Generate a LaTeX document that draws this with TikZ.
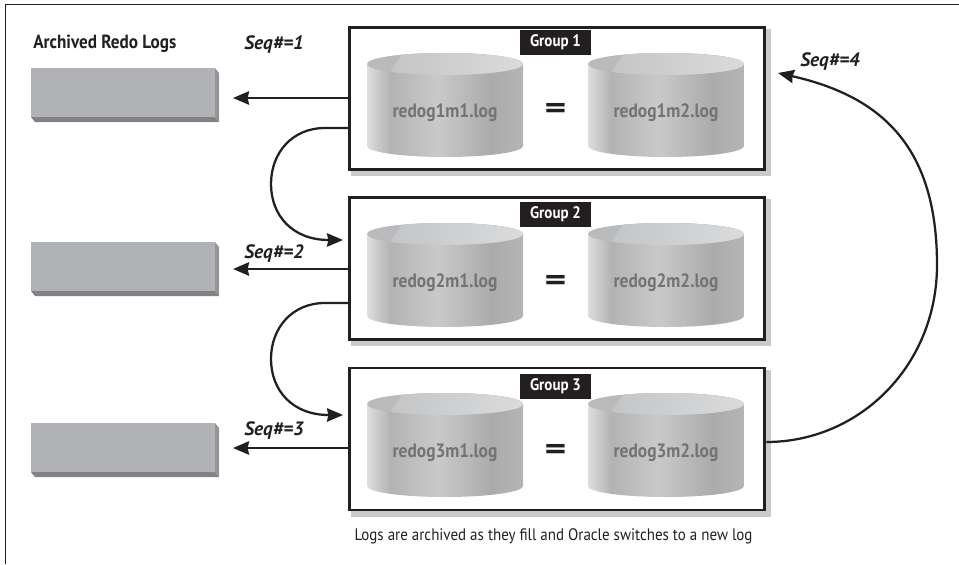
\documentclass[tikz,border=0pt]{standalone}
\usepackage{fontspec}
\setmainfont[FakeStretch=0.9]{PT Sans}
\newfontfamily\seqfont[FakeStretch=1.0]{PT Sans}
\usetikzlibrary{arrows.meta,calc}
\definecolor{cyltop}{HTML}{B9BABC}
\definecolor{cyltopl}{HTML}{DADBDC}
\definecolor{cyltopm}{HTML}{C4C5C7}
\definecolor{cyltext}{HTML}{727376}
\definecolor{archface}{HTML}{B1B2B5}
\definecolor{archside}{HTML}{939598}
\definecolor{archbot}{HTML}{808285}
\definecolor{shadowgray}{HTML}{C9CACC}
\definecolor{inkblack}{HTML}{231F20}
\pgfdeclarehorizontalshading{cylshade}{100bp}{
  color(0bp)=(white!87!black);color(25bp)=(white!87!black);
  color(32.5bp)=(white!70!black);color(47.5bp)=(white!79!black);
  color(65bp)=(white!67!black);color(70bp)=(white!69!black);
  color(75bp)=(white!71!black);color(100bp)=(white!71!black)}
\tikzset{
  x=0.75pt,y=-0.75pt,
  groupbox/.style={draw=inkblack,line width=2.2pt,fill=white,minimum width=311.5pt,minimum height=106.5pt,inner sep=0pt,anchor=north west},
  wire/.style={draw=inkblack,line width=1.7pt},
  arrow/.style={wire,-{Stealth[length=12pt,width=10pt,inset=1pt]}},
  seqlabel/.style={font=\seqfont\bfseries\itshape\fontsize{14.5}{17}\selectfont,text=inkblack,inner sep=0pt},
  grouptag/.style={fill=inkblack,text=white,font=\bfseries\fontsize{12.5}{14}\selectfont,minimum width=53pt,minimum height=18.75pt,inner sep=0pt},
  logname/.style={text=cyltext,font=\bfseries\fontsize{14.5}{16}\selectfont,inner sep=0pt},
  eqsign/.style={font=\bfseries\fontsize{23}{24}\selectfont,text=inkblack,inner sep=0pt,xscale=1.5},
  caption/.style={font=\fontsize{12.5}{14}\selectfont,text=inkblack,inner sep=0pt},
  archbox/.style={fill=archface,draw=none,minimum width=138pt,minimum height=36.75pt,inner sep=0pt,anchor=north west},
}
\newcommand{\cyl}[3]{% x, y-top, text
  \begin{scope}[shift={(#1,#2)}]
    \shade[shading=cylshade]
      (0,11) -- (0,93) arc[start angle=180,end angle=360,x radius=78,y radius=-11]
      -- (156,11) arc[start angle=0,end angle=180,x radius=78,y radius=-11] -- cycle;
    \fill[cyltop] (78,11) ellipse[x radius=78,y radius=11];
    \begin{scope}
      \clip (78,11) ellipse[x radius=78,y radius=11];
      \shade[left color=cyltopm,right color=cyltopl] (24,18) -- (36,0) -- (157,0) -- (157,24) -- (24,24) -- cycle;
    \end{scope}
    \node[logname] at (78,60) {#3};
  \end{scope}}
\newcommand{\arch}[3]{% name, x, y
  \fill[archside] (#2+184,#3) -- (#2+188,#3+5) -- (#2+188,#3+54) -- (#2+184,#3+49) -- cycle;
  \fill[archbot] (#2,#3+49) -- (#2+184,#3+49) -- (#2+188,#3+54) -- (#2+4,#3+54) -- cycle;
  \node[archbox] (#1) at (#2,#3) {};}
\newcommand{\grp}[2]{% name, y
  \fill[shadowgray] (351,#2+3) rectangle (771,#2+150);
  \node[groupbox] (#1) at (348,#2) {};}
\begin{document}
\begin{tikzpicture}
\useasboundingbox (0,0) rectangle (959,564);
\draw[inkblack,line width=0.75pt] (959,4.5) -- (5.5,4.5) -- (5.5,564);
% archive
\arch{a1}{31}{68}
\arch{a2}{31}{242}
\arch{a3}{31}{423}
\node[anchor=west,font=\bfseries\fontsize{14.3}{16}\selectfont,text=inkblack,inner sep=0pt] (title) at (33,44) {Archived Redo Logs};
% groups
\grp{g1}{26}
\grp{g2}{196}
\grp{g3}{366.5}
\node[grouptag] (t1) at (555.5,42.5) {Group 1};
\node[grouptag] (t2) at (555.5,214.5) {Group 2};
\node[grouptag] (t3) at (555.5,386.5) {Group 3};
\cyl{367}{53}{redog1m1.log}
\cyl{588}{53}{redog1m2.log}
\cyl{367}{223}{redog2m1.log}
\cyl{588}{223}{redog2m2.log}
\cyl{367}{393}{redog3m1.log}
\cyl{588}{393}{redog3m2.log}
\node[eqsign] (e1) at (555.5,111) {=};
\node[eqsign] (e2) at (555.5,283) {=};
\node[eqsign] (e3) at (555.5,452) {=};
% seq labels
\node[seqlabel] (s1) at (274,45) {Seq\#=1};
\node[seqlabel] (s2) at (274,254) {Seq\#=2};
\node[seqlabel] (s3) at (274,431) {Seq\#=3};
\node[seqlabel] (s4) at (830,62) {Seq\#=4};
\node[caption] (cap) at (553.5,536) {Logs are archived as they fill and Oracle switches to a new log};
% connectors
\coordinate (p1) at (233,98);
\coordinate (p2) at (233,269);
\coordinate (p3) at (233,448);
\draw[arrow] (g1.west |- p1) -- (p1);
\draw[arrow] (g2.west |- p2) -- (p2);
\draw[arrow] (g3.west |- p3) -- (p3);
\coordinate (c1s) at (348,128);
\coordinate (c1e) at (343,240);
\coordinate (c2s) at (348,303);
\coordinate (c2e) at (343,415);
\draw[arrow] (g1.west |- c1s) -- (325,128) .. controls (292,128) and (271,153) .. (271,184)
   .. controls (271,215) and (292,240) .. (c1e);
\draw[arrow] (g2.west |- c2s) -- (325,303) .. controls (292,303) and (271,328) .. (271,359)
   .. controls (271,390) and (292,415) .. (c2e);
\coordinate (c3s) at (764,442);
\coordinate (c3e) at (778,73);
\draw[arrow] (g3.east |- c3s) .. controls (860,442) and (937,365) .. (937,265)
   .. controls (937,150) and (885,97) .. (c3e);
\end{tikzpicture}
\end{document}
